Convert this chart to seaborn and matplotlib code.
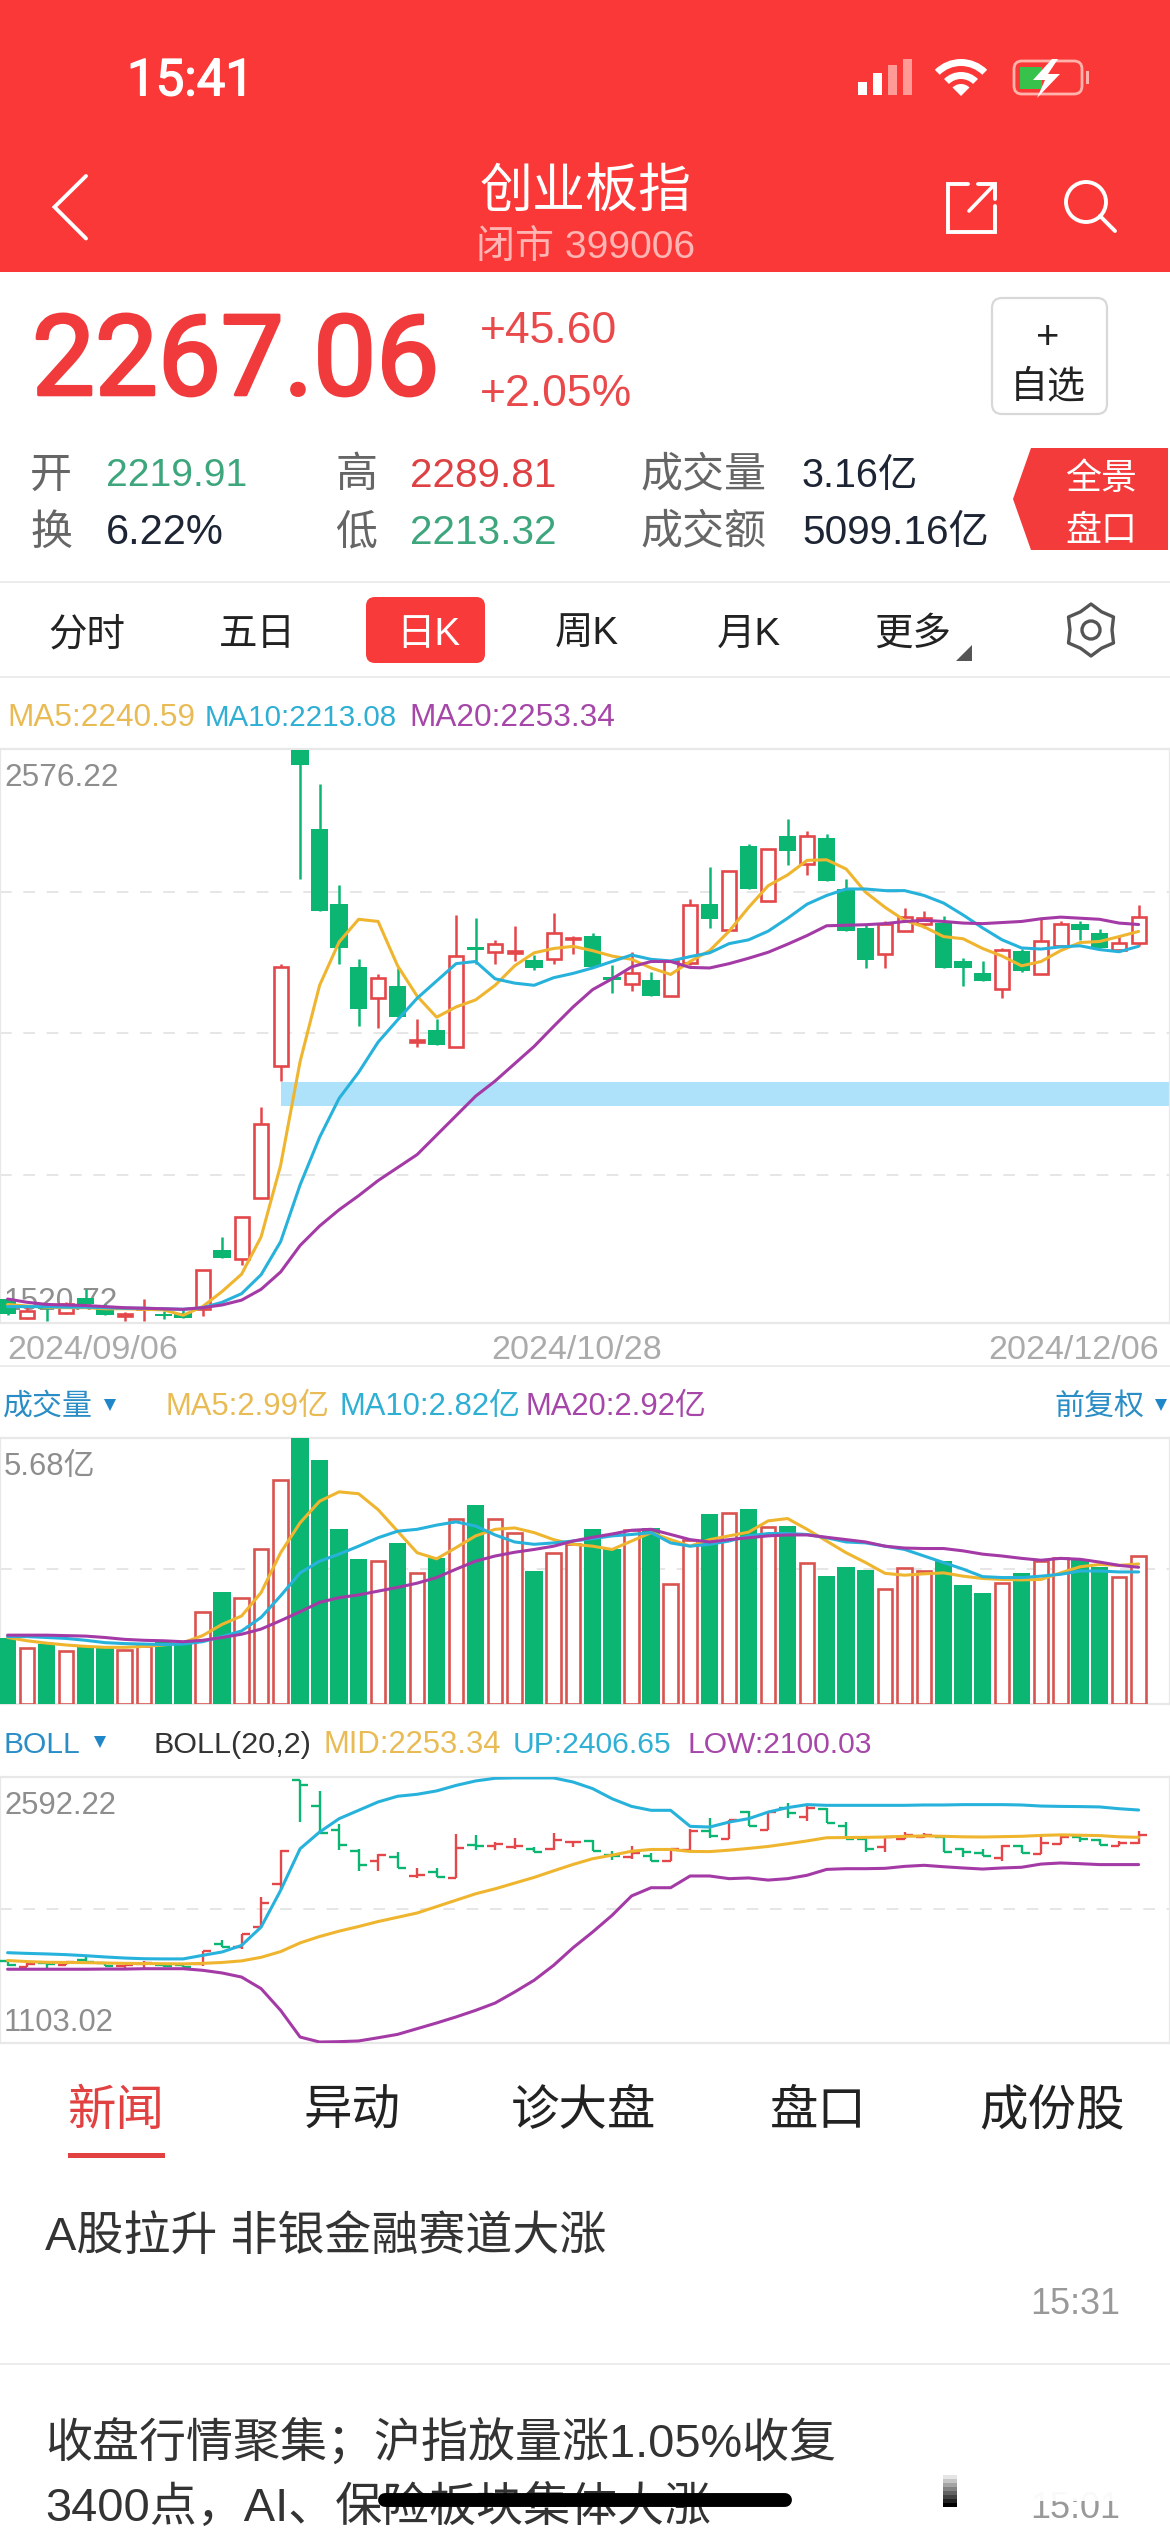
import numpy as np
import pandas as pd
import seaborn as sns
import matplotlib
matplotlib.use("Agg")
import matplotlib.pyplot as plt
import matplotlib.patheffects as pe
from matplotlib.patches import Rectangle, FancyBboxPatch, Polygon, Wedge, Circle

# ---------- data ----------
open_ = [1561,1526,1545,1535,1563,1547,1529,1542,1534,1535,1543,1651.5,1635,1748,1992,2576,2429,2292,2175,2118,2140,2036,2058,2026,2211,2203,2201,2187,2189,2226.5,
         2233,2156,2143,2150,2121,2183,2291.5,2244,2398,2297,2417,2366,2413,2319.5,2246,2199,2242,2254,2257,2185,2164,2135,2205,2161,2214,2254,2238.5,2207,2219.91]
close = [1534,1539,1542,1551,1551,1531,1533,1545,1530,1526,1614,1637,1712,1884,2175,2549,2278,2210.5,2098,2155,2082,2040,2030,2195,2207,2217,2204,2173,2238,2229,
         2174,2150,2163,2121,2185,2289,2263,2352,2319.5,2393,2388.5,2417,2333,2242,2188,2255,2267,2265,2173,2173,2148,2207,2167,2222,2255,2243,2210.5,2220,2267.06]
high  = [1563,1547,1551,1555,1579,1551,1537,1561,1539,1542,1614,1675.5,1712,1916,2181,2576.22,2514,2327,2189,2161,2173,2079,2079,2271,2265,2225,2251,2197,2275,2233,
         2238.5,2178,2202,2165,2186,2301,2360,2352,2403,2393,2448,2427,2420,2337,2253,2259,2283,2279,2269,2191,2185,2210.5,2209,2265,2259,2259,2245,2233,2289.81]
low   = [1532,1524,1520.72,1534,1551,1531,1520.72,1520.72,1524,1526,1529,1637,1623,1748,1964,2337,2278,2181,2066,2062,2082,2026,2030,2026,2181,2180,2186,2169,2181,2199,
         2174,2127,2130,2121,2121,2178,2247,2242.5,2319.5,2297,2363,2345,2333,2242,2173,2173,2242,2247,2173,2140,2148,2118,2165,2161,2214,2225,2210.5,2205,2213.32]
ma5  = [1551,1548,1546,1545,1545,1543,1543,1542,1541,1531,1547,1575,1607,1676,1808,2000,2141,2221,2263,2259,2177,2121,2082,2101,2114,2141,2177,2201,2209,2213,2205,
        2195,2189,2173,2161,2185,2205,2241,2285,2325,2345,2372,2373,2356,2313,2285,2261,2249,2231,2227,2209,2195,2177,2185,2205,2220,2222,2231,2240.59]
ma10 = [1547,1547,1547,1546,1546,1545,1544,1544,1543,1542,1545,1555,1571,1606,1667,1772,1860,1932,1980,2036,2077,2117,2149,2181,2185,2153,2145,2141,2155,2163,2173,
        2185,2197,2189,2186,2194,2201,2218,2225,2241,2265,2291,2307,2319,2319,2316,2316,2307,2293,2271,2247,2225,2210,2208,2212,2214,2207,2203,2213.08]
ma20 = [1561,1555,1551,1550,1549,1547,1545,1544,1543,1542,1545,1550,1559,1579,1611,1660,1696,1726,1752,1780,1804,1828,1864,1900,1936,1964,1996,2028,2065,2101,2133,
        2153,2175,2185,2185,2174,2173,2181,2191,2202,2217,2233,2251,2252,2253,2255,2259,2261,2259,2256,2255,2257,2259,2264,2267,2265,2263,2256,2253.34]
volume = [1.42,1.19,1.28,1.14,1.24,1.21,1.16,1.24,1.35,1.28,1.97,2.40,2.27,3.32,4.79,5.68,5.20,3.73,3.10,3.06,3.43,2.80,3.12,3.95,4.25,3.94,3.66,2.84,3.23,3.41,3.74,
          3.30,3.71,3.75,2.56,3.50,4.05,4.08,4.17,3.78,3.81,3.02,2.73,2.92,2.86,2.45,2.90,2.83,3.05,2.54,2.36,2.59,2.79,3.05,3.11,3.09,2.93,2.71,3.16]
vol_ma5 = [1.42,1.35,1.30,1.26,1.23,1.21,1.21,1.23,1.26,1.31,1.46,1.70,1.88,2.38,3.23,3.87,4.33,4.53,4.49,4.15,3.69,3.23,3.10,3.34,3.59,3.73,3.76,3.66,3.51,3.41,3.37,
           3.30,3.48,3.66,3.51,3.37,3.51,3.59,3.67,3.91,3.96,3.73,3.48,3.23,3.02,2.79,2.75,2.78,2.80,2.73,2.68,2.66,2.65,2.66,2.80,2.93,2.98,2.96,2.99]
vol_ma10 = [1.44,1.44,1.42,1.40,1.36,1.31,1.29,1.28,1.27,1.28,1.33,1.44,1.56,1.85,2.31,2.80,3.05,3.20,3.37,3.55,3.69,3.73,3.82,3.89,3.80,3.61,3.46,3.41,3.44,3.48,3.53,
            3.59,3.62,3.66,3.44,3.37,3.41,3.48,3.59,3.64,3.64,3.62,3.55,3.46,3.44,3.37,3.30,3.16,3.02,2.88,2.72,2.70,2.70,2.73,2.77,2.84,2.84,2.82,2.82]
vol_ma20 = [1.47,1.47,1.47,1.46,1.45,1.42,1.38,1.36,1.35,1.33,1.36,1.42,1.49,1.60,1.78,1.97,2.17,2.27,2.33,2.41,2.49,2.58,2.70,2.88,3.05,3.16,3.24,3.30,3.37,3.48,3.56,
            3.63,3.71,3.73,3.62,3.51,3.46,3.51,3.55,3.59,3.61,3.61,3.56,3.51,3.46,3.37,3.33,3.32,3.32,3.27,3.20,3.16,3.11,3.07,3.11,3.09,3.03,2.96,2.92]
boll_up = [1605,1601,1598,1594,1588,1581,1575,1571,1570,1570,1590,1609,1646,1749,1955,2189,2283,2358,2405,2452,2484,2495,2514,2545,2570,2585,2587,2587,2587,2564,2527,
           2470,2427,2405,2405,2315,2311,2339,2358,2395,2420,2437,2433,2433,2433,2433,2433,2435,2435,2437,2437,2437,2435,2429,2427,2426,2424,2414,2406.65]
boll_low = [1512,1512,1512,1512,1512,1513,1513,1515,1515,1515,1506,1491,1468,1403,1281,1131,1103.02,1105,1109,1127,1146,1178,1210,1244,1281,1322,1384,1450,1534,1633,1721,
            1815,1924,1970,1970,2036,2036,2021,2025,2013,2021,2040,2073,2077,2077,2079,2090,2096,2088,2081,2075,2081,2085,2103,2109,2105,2100,2100,2100.03]
boll_mid = ma20

# ---------- style ----------
W, H = 1170, 2532
sns.set_theme(style="white")
FONT = ["Liberation Sans", "Noto Sans CJK SC", "DejaVu Sans"]
ROBOTO = ["Roboto", "Liberation Sans"]
plt.rcParams["font.family"] = FONT

RED, GREEN = "#e4474a", "#0bb673"
C_MA5, C_MA10, C_MA20 = "#efb52f", "#27b2dc", "#a43aa6"
GRID, FRAME = "#e2e2e2", "#e8e8e8"
idx = np.arange(len(close))
df = pd.DataFrame(dict(i=idx, ma5=ma5, ma10=ma10, ma20=ma20, vol=volume, v5=vol_ma5, v10=vol_ma10, v20=vol_ma20,
                       up=boll_up, mid=boll_mid, lo=boll_low))
rise = np.array(close) >= np.array(open_)
fig = plt.figure(figsize=(W / 100, H / 100), dpi=100, facecolor="white")

def make_ax(top, bottom, ylim):
    ax = fig.add_axes([0, 1 - bottom / H, 1, (bottom - top) / H], zorder=2)
    ax.set_facecolor("none")
    ax.set_xlim(-0.39, 59.61)
    ax.set_ylim(*ylim)
    ax.set_xticks([]); ax.set_yticks([])
    for s in ax.spines.values():
        s.set_color(FRAME); s.set_linewidth(1.6)
    return ax

def ma_lines(ax, cols):
    for col, c in cols:
        sns.lineplot(data=df, x="i", y=col, ax=ax, color=c, lw=2.2, estimator=None, sort=False,
                     errorbar=None, legend=False, zorder=6, solid_joinstyle="round")
    ax.set_xlabel(""); ax.set_ylabel("")

# ---------- UI layer ----------
ui = fig.add_axes([0, 0, 1, 1], zorder=0)
ui.set_xlim(0, W); ui.set_ylim(H, 0); ui.axis("off")

def T(x, y, s, px, c="#222222", ha="left", family=None, z=3, stroke=0):
    off = 0.065 if family else 0.13
    t = ui.text(x, y + off * px, s, fontsize=px * 0.72, color=c, ha=ha, va="center",
                family=family if family else FONT, zorder=z)
    if stroke:
        t.set_path_effects([pe.withStroke(linewidth=stroke, foreground=c)])
    return t

ui.add_patch(Rectangle((0, 0), W, 272, color="#fb3838", lw=0))
T(127, 78, "15:41", 51, "white", family=ROBOTO, stroke=1.0)
for k, (h, c) in enumerate([(13, "white"), (22, "white"), (30, "#ff9a96"), (36, "#ff9a96")]):
    ui.add_patch(Rectangle((858 + k * 15, 95 - h), 9, h, color=c, lw=0))
for r, w in [(37, 7), (24, 7)]:
    ui.add_patch(Wedge((961, 96), r, 225, 315, width=w, color="white", lw=0))
ui.add_patch(Wedge((961, 96), 12, 225, 315, color="white", lw=0))
ui.add_patch(FancyBboxPatch((1014, 61), 68, 33, boxstyle="round,pad=0,rounding_size=8", fc="none", ec="#ffb3ab", lw=2))
ui.add_patch(Rectangle((1020, 67), 22, 22, color="#36c24b", lw=0))
ui.add_patch(Rectangle((1086, 71), 3, 13, color="#ffb3ab", lw=0))
ui.add_patch(Polygon([(1052, 59), (1033, 80), (1045, 80), (1037, 98), (1060, 74), (1048, 74), (1058, 59)], color="white", lw=0))
ui.plot([86, 54.5, 86], [176, 207, 238.5], color="white", lw=2.8, solid_joinstyle="miter")
ui.plot([968, 948, 948, 995, 995], [184, 184, 232, 232, 206], color="white", lw=2.8, solid_joinstyle="miter")
ui.plot([969, 994], [211, 185], color="white", lw=2.6)
ui.plot([978, 995, 995], [184, 184, 199], color="white", lw=2.8, solid_joinstyle="miter")
ui.add_patch(Circle((1086, 202), 20, fc="none", ec="white", lw=2.8))
ui.plot([1100, 1115], [216, 231], color="white", lw=2.8)
T(586, 186, "创业板指", 53, "white", ha="center")
T(586, 243, "闭市 399006", 39, "#ffb5b3", ha="center")

T(32, 357, "2267.06", 112, "#f03a3c", family=ROBOTO, stroke=2.2)
T(480, 326, "+45.60", 44.5, "#e9494a")
T(480, 389, "+2.05%", 44.5, "#e9494a")
ui.add_patch(FancyBboxPatch((992, 298), 115, 116, boxstyle="round,pad=0,rounding_size=10", fc="white", ec="#d8d8d8", lw=1.6))
T(1048, 333, "+", 40, "#222222", ha="center")
T(1048, 382, "自选", 38, "#222222", ha="center")

T(30, 471, "开", 42, "#666666"); T(30, 528, "换", 42, "#666666")
T(106, 471, "2219.91", 39, "#3da67d"); T(106, 528, "6.22%", 41.5, "#1d2433")
T(335, 471, "高", 42, "#666666"); T(335, 528, "低", 42, "#666666")
T(410, 471, "2289.81", 40.5, "#de4143"); T(410, 528, "2213.32", 40.5, "#3da67d")
T(641, 471, "成交量", 42, "#666666"); T(641, 528, "成交额", 42, "#666666")
T(802, 471, "3.16亿", 39.5, "#1d2433"); T(802, 528, "5099.16亿", 40.5, "#1d2433")
ui.add_patch(Polygon([(1031, 448), (1168, 448), (1168, 550), (1031, 550), (1013, 499)], color="#f43b3b", lw=0))
T(1101, 475, "全景", 36, "white", ha="center"); T(1101, 527, "盘口", 36, "white", ha="center")

ui.plot([0, W], [582, 582], color="#ececec", lw=1.4)
ui.plot([0, W], [677, 677], color="#ececec", lw=1.4)
ui.add_patch(FancyBboxPatch((366, 597), 119, 66, boxstyle="round,pad=0,rounding_size=9", fc="#f93a3a", ec="none"))
for x, s, c in [(87, "分时", "#222222"), (257, "五日", "#222222"), (428, "日K", "white"),
                (587, "周K", "#222222"), (749, "月K", "#222222"), (913, "更多", "#222222")]:
    T(x, 630, s, 38.5, c, ha="center")
ui.add_patch(Polygon([(972, 645), (972, 661), (956, 661)], color="#555555", lw=0))
# gear icon
ang = np.linspace(0, 2 * np.pi, 12, endpoint=False) + np.pi / 2
rad = np.where(np.arange(12) % 2 == 0, 26, 21)
ui.add_patch(Polygon(np.c_[1091 + rad * np.cos(ang), 630 + rad * np.sin(ang)], fc="none", ec="#555555", lw=2.4, joinstyle="round"))
ui.add_patch(Circle((1091, 630), 9, fc="none", ec="#555555", lw=2.4))

def legend(y, parts):
    for x, s, c, px in parts:
        T(x, y, s, px, c)

legend(714, [(7, "MA5:2240.59", "#e9bb55", 31.5), (205, "MA10:2213.08", "#2fafd3", 29.5), (409, "MA20:2253.34", "#a546a8", 31.5)])
T(4, 774, "2576.22", 31.5, "#8e8e8e")
T(4, 1298, "1520.72", 31.5, "#8e8e8e")
T(7, 1346, "2024/09/06", 34, "#ababab")
T(577, 1346, "2024/10/28", 34, "#ababab", ha="center")
T(1159, 1346, "2024/12/06", 34, "#ababab", ha="right")
ui.plot([0, W], [1366, 1366], color="#ececec", lw=1.4)

T(3, 1403, "成交量", 30, "#2b8dc5")
ui.add_patch(Polygon([(104, 1399), (116, 1399), (110, 1411)], color="#1f87c8", lw=0))
legend(1403, [(165, "MA5:2.99亿", "#e9bb55", 31), (339, "MA10:2.82亿", "#2fafd3", 31), (525, "MA20:2.92亿", "#a546a8", 31)])
T(1054, 1403, "前复权", 30, "#2b8dc5")
ui.add_patch(Polygon([(1155, 1399), (1167, 1399), (1161, 1411)], color="#1f87c8", lw=0))
T(4, 1463, "5.68亿", 31, "#8e8e8e")

T(3, 1741, "BOLL", 30, "#2b8dc5")
ui.add_patch(Polygon([(94, 1736), (106, 1736), (100, 1748)], color="#1f87c8", lw=0))
legend(1741, [(153, "BOLL(20,2)", "#333333", 30.5), (323, "MID:2253.34", "#e9bb55", 31), (513, "UP:2406.65", "#2fafd3", 30), (687, "LOW:2100.03", "#a546a8", 30)])
T(4, 1802, "2592.22", 31, "#8e8e8e")
T(4, 2019, "1103.02", 31, "#8e8e8e")

for x, s, c in [(116, "新闻", "#e24141"), (352, "异动", "#222222"), (584, "诊大盘", "#222222"), (818, "盘口", "#222222"), (1052, "成份股", "#222222")]:
    T(x, 2106, s, 48.5, c, ha="center")
ui.add_patch(Rectangle((68, 2153), 97, 5, color="#e24141", lw=0))
T(45, 2232, "A股拉升 非银金融赛道大涨", 47, "#333333")
T(1120, 2300, "15:31", 36, "#999999", ha="right")
ui.plot([0, W], [2364, 2364], color="#ececec", lw=1.4)
T(45, 2437, "收盘行情聚集；沪指放量涨1.05%收复", 47, "#333333")
T(45, 2502, "3400点，AI、保险板块集体大涨", 47, "#333333")
T(1120, 2504, "15:01", 36, "#999999", ha="right")
# blurred overlay across the lower corner, as in the screenshot
ui.add_patch(Rectangle((870, 2470), 280, 31, color="white", alpha=0.95, lw=0, zorder=4))
for k, a in enumerate(np.linspace(0.1, 1, 8)):
    ui.add_patch(Rectangle((943, 2475 + k * 4), 14, 4, color="black", alpha=a, lw=0, zorder=5))
ui.plot([385, 785], [2500, 2500], color="black", lw=10, solid_capstyle="round", zorder=5)

# ---------- candles ----------
o, c, h, l = map(np.array, (open_, close, high, low))
ax1 = make_ax(749, 1323, (1516.7, 2577.8))
for y in [2314, 2052, 1791]:
    ax1.axhline(y, color=GRID, lw=1.2, dashes=(7, 7), zorder=1)
ax1.add_patch(Rectangle((14, 1918.5), 60, 43.3, color="#aee2fb", lw=0, zorder=2))
ax1.vlines(idx[rise], l[rise], h[rise], color=RED, lw=1.8, zorder=3)
ax1.vlines(idx[~rise], l[~rise], h[~rise], color=GREEN, lw=1.8, zorder=3)
ax1.bar(idx[rise], (c - o)[rise], bottom=o[rise], width=0.72, fc="white", ec=RED, lw=1.9, zorder=4)
ax1.bar(idx[~rise], (o - c)[~rise], bottom=c[~rise], width=0.90, color=GREEN, lw=0, zorder=4)
ma_lines(ax1, [("ma5", C_MA5), ("ma10", C_MA10), ("ma20", C_MA20)])

# ---------- volume ----------
ax2 = make_ax(1438, 1704, (0, 5.68))
ax2.axhline(2.875, color=GRID, lw=1.2, dashes=(7, 7), zorder=1)
v = np.array(volume)
ax2.bar(idx[rise], v[rise], width=0.75, fc="white", ec="#d9534f", lw=1.9, zorder=3)
ax2.bar(idx[~rise], v[~rise], width=0.90, color=GREEN, lw=0, zorder=3)
ma_lines(ax2, [("v5", C_MA5), ("v10", C_MA10), ("v20", C_MA20)])

# ---------- BOLL ----------
ax3 = make_ax(1777, 2043, (1097.5, 2592.2))
ax3.axhline(1852.4, color=GRID, lw=1.2, dashes=(7, 7), zorder=1)
for mask, col in [(rise, RED), (~rise, GREEN)]:
    ax3.vlines(idx[mask], l[mask], h[mask], color=col, lw=1.7, zorder=3)
    ax3.hlines(o[mask], idx[mask] - 0.42, idx[mask], color=col, lw=1.7, zorder=3)
    ax3.hlines(c[mask], idx[mask], idx[mask] + 0.42, color=col, lw=1.7, zorder=3)
ma_lines(ax3, [("up", C_MA10), ("mid", C_MA5), ("lo", C_MA20)])

fig.savefig("out.png", dpi=100, facecolor="white")
